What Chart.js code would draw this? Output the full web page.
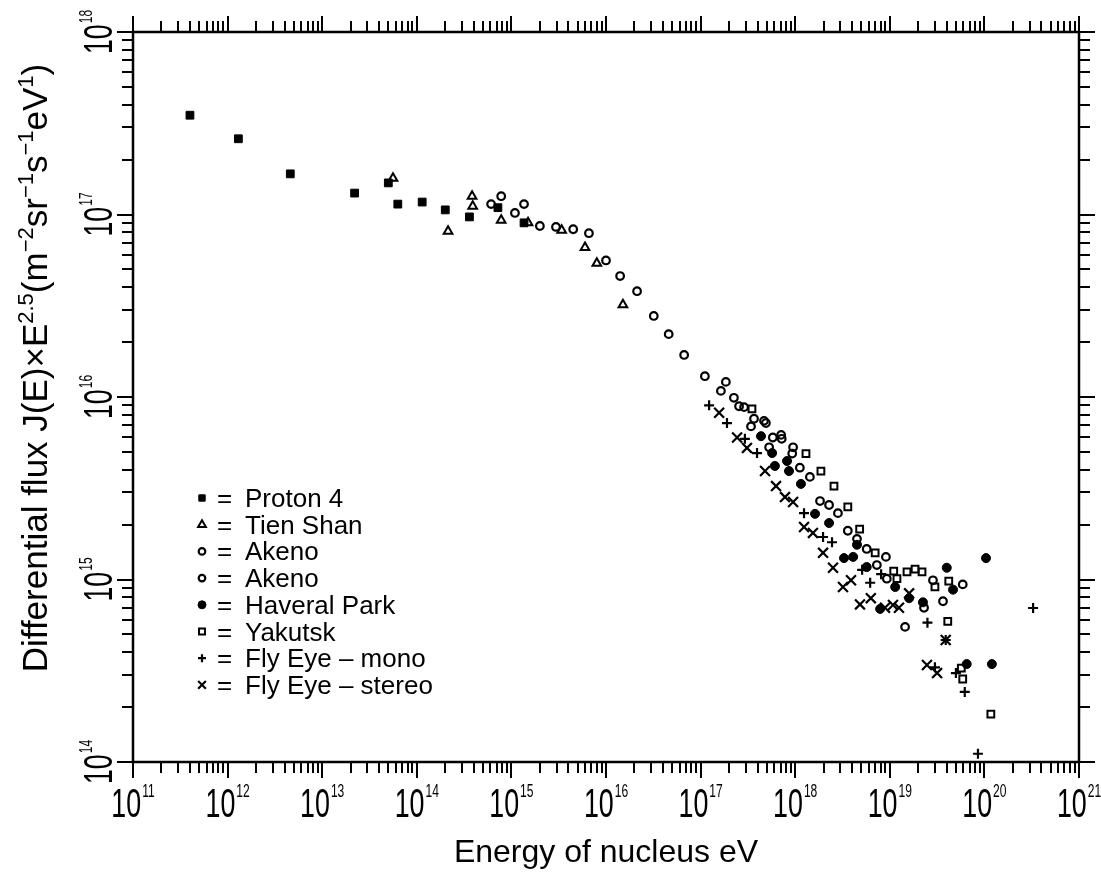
<!DOCTYPE html>
<html>
<head>
<meta charset="utf-8">
<script src="https://cdn.jsdelivr.net/npm/chart.js@4.4.0/dist/chart.umd.min.js"></script>
<style>
  html, body { margin: 0; padding: 0; background: #fff; }
  #wrap { width: 1101px; height: 877px; }
</style>
</head>
<body>
<div id="wrap"><canvas id="chart" width="1101" height="877"></canvas></div>
<script>
// energy of nucleus (eV) and flux J(E)*E^2.5
const PROTON4_E = [4.0e11, 1.3e12, 4.6e12, 2.2e13, 5.0e13, 6.3e13, 1.14e14, 2.0e14, 3.6e14, 7.2e14, 1.36e15];
const PROTON4_F = [3.5e17, 2.6e17, 1.67e17, 1.31e17, 1.49e17, 1.14e17, 1.17e17, 1.06e17, 9.7e16, 1.09e17, 9.0e16];

const TIENSHAN_E = [5.6e13, 2.14e14, 3.84e14, 3.9e14, 7.8e14, 1.5e15, 3.4e15, 6.0e15, 8.0e15, 1.51e16];
const TIENSHAN_F = [1.58e17, 8.1e16, 1.26e17, 1.11e17, 9.3e16, 9.0e16, 8.2e16, 6.6e16, 5.4e16, 3.2e16];

const AKENO1_E = [6.1e14, 7.8e14, 1.09e15, 1.36e15, 2.0e15, 2.96e15, 4.5e15, 6.6e15, 1.0e16, 1.41e16, 2.13e16, 3.2e16, 4.6e16, 6.7e16, 1.11e17];
const AKENO1_F = [1.14e17, 1.26e17, 1.02e17, 1.14e17, 8.65e16, 8.55e16, 8.3e16, 7.9e16, 5.6e16, 4.6e16, 3.8e16, 2.78e16, 2.21e16, 1.70e16, 1.30e16];

const AKENO2_E = [1.64e17, 1.85e17, 2.25e17, 2.55e17, 2.88e17, 3.41e17, 3.67e17, 4.68e17, 4.9e17, 5.3e17, 5.8e17, 7.1e17, 7.2e17, 9.3e17, 9.5e17, 1.12e18, 1.43e18, 1.83e18, 2.28e18, 2.83e18, 3.6e18, 4.5e18, 5.7e18, 7.3e18, 9.1e18, 9.3e18, 1.45e19, 2.3e19, 2.86e19, 3.65e19, 5.9e19];
const AKENO2_F = [1.08e16, 1.21e16, 9.9e15, 8.9e15, 8.8e15, 6.9e15, 7.6e15, 7.4e15, 7.2e15, 5.3e15, 6.0e15, 6.2e15, 5.9e15, 4.9e15, 5.3e15, 4.1e15, 3.65e15, 2.69e15, 2.56e15, 2.31e15, 1.85e15, 1.67e15, 1.47e15, 1.20e15, 1.33e15, 1.01e15, 5.5e14, 7.0e14, 9.9e14, 7.6e14, 9.4e14];

const HAVERAH_E = [4.35e17, 5.7e17, 6.1e17, 8.2e17, 8.6e17, 1.15e18, 1.62e18, 2.28e18, 3.28e18, 4.1e18, 4.5e18, 5.7e18, 7.9e18, 1.14e19, 1.6e19, 2.24e19, 4.0e19, 4.66e19, 6.5e19, 1.04e20, 1.2e20];
const HAVERAH_F = [6.1e15, 4.93e15, 4.19e15, 4.46e15, 3.93e15, 3.34e15, 2.29e15, 2.04e15, 1.31e15, 1.33e15, 1.55e15, 1.17e15, 6.9e14, 9.1e14, 7.9e14, 7.5e14, 1.16e15, 8.8e14, 3.44e14, 1.31e15, 3.44e14];

const YAKUTSK_E = [3.49e17, 1.3e18, 1.87e18, 2.57e18, 3.6e18, 4.8e18, 7.0e18, 1.1e19, 1.19e19, 1.52e19, 1.85e19, 2.19e19, 3.0e19, 4.1e19, 4.2e19, 5.7e19, 5.9e19, 1.17e20];
const YAKUTSK_F = [8.6e15, 4.9e15, 3.93e15, 3.25e15, 2.5e15, 1.89e15, 1.40e15, 1.11e15, 1.01e15, 1.10e15, 1.14e15, 1.10e15, 9.1e14, 5.9e14, 9.8e14, 3.27e14, 2.85e14, 1.83e14];

const FLYMONO_E = [1.23e17, 1.9e17, 2.94e17, 3.95e17, 1.24e18, 1.97e18, 2.45e18, 5.1e18, 6.2e18, 8.1e18, 2.5e19, 3.0e19, 3.9e19, 5.0e19, 6.2e19, 8.55e19, 3.27e20];
const FLYMONO_F = [9.0e15, 7.2e15, 5.9e15, 4.93e15, 2.31e15, 1.71e15, 1.60e15, 1.13e15, 9.6e14, 1.07e15, 5.8e14, 3.3e14, 4.66e14, 3.07e14, 2.42e14, 1.11e14, 6.98e14];

const FLYSTEREO_E = [1.57e17, 2.43e17, 3.09e17, 4.8e17, 6.27e17, 7.8e17, 9.5e17, 1.24e18, 1.54e18, 1.97e18, 2.51e18, 3.2e18, 3.89e18, 4.84e18, 6.3e18, 8.9e18, 1.08e19, 1.25e19, 1.6e19, 2.47e19, 3.16e19, 3.9e19];
const FLYSTEREO_F = [8.2e15, 6.0e15, 5.26e15, 3.93e15, 3.25e15, 2.83e15, 2.66e15, 1.94e15, 1.80e15, 1.40e15, 1.16e15, 9.1e14, 9.9e14, 7.3e14, 7.9e14, 7.0e14, 7.25e14, 7.0e14, 8.4e14, 3.4e14, 3.07e14, 4.66e14];

const SERIES_LABELS = ['Proton 4', 'Tien Shan', 'Akeno', 'Akeno', 'Haveral Park', 'Yakutsk', 'Fly Eye \u2013 mono', 'Fly Eye \u2013 stereo'];

// axis decades (powers of ten)
const X_EXPS = [11, 12, 13, 14, 15, 16, 17, 18, 19, 20, 21];
const Y_EXPS = [14, 15, 16, 17, 18];

const X_TITLE = 'Energy of nucleus eV';
const Y_TITLE = [['Differential flux J(E)\u00d7E', 0], ['2.5', 1], ['(m', 0], ['\u22122', 1], ['sr', 0], ['\u22121', 1], ['s', 0], ['\u22121', 1], ['eV', 0], ['1', 1], [')', 0]];

const FONT = '"Liberation Sans", Arial, sans-serif';
const INK = '#000';

const pts = (xs, ys) => xs.map((v, i) => ({ x: v, y: ys[i] }));

// marker look for each series, in legend order
const STYLES = [
    { pointStyle: 'rect',     radius: 5.5, borderWidth: 1,   fill: true,  legendRadius: 4.5 },
    { pointStyle: 'triangle', radius: 5,   borderWidth: 2,   fill: false, legendRadius: 4.5 },
    { pointStyle: 'circle',   radius: 3.8, borderWidth: 2.2, fill: false, legendRadius: 3.3 },
    { pointStyle: 'circle',   radius: 3.8, borderWidth: 2.2, fill: false, legendRadius: 3.3 },
    { pointStyle: 'circle',   radius: 4.5, borderWidth: 1,   fill: true,  legendRadius: 4 },
    { pointStyle: 'rect',     radius: 4.8, borderWidth: 2,   fill: false, legendRadius: 4.2 },
    { pointStyle: 'cross',    radius: 5,   borderWidth: 2.2, fill: false, legendRadius: 4 },
    { pointStyle: 'crossRot', radius: 7,   borderWidth: 2.2, fill: false, legendRadius: 5.5 }
];

const SERIES_DATA = [
    pts(PROTON4_E, PROTON4_F),
    pts(TIENSHAN_E, TIENSHAN_F),
    pts(AKENO1_E, AKENO1_F),
    pts(AKENO2_E, AKENO2_F),
    pts(HAVERAH_E, HAVERAH_F),
    pts(YAKUTSK_E, YAKUTSK_F),
    pts(FLYMONO_E, FLYMONO_F),
    pts(FLYSTEREO_E, FLYSTEREO_F)
];

/* ── text helpers ───────────────────────────────── */
function condText(ctx, str, x, y, font, sx) {
    ctx.save();
    ctx.translate(x, y);
    ctx.scale(sx, 1);
    ctx.font = font;
    ctx.fillText(str, 0, 0);
    ctx.restore();
}

function condWidth(ctx, str, font, sx) {
    ctx.font = font;
    return ctx.measureText(str).width * sx;
}

// "10" with a raised exponent, centred on cx, baseline at by
function powLabel(ctx, exp, cx, by) {
    const big = '40px ' + FONT, small = '18px ' + FONT, sx = 0.67;
    const w10 = condWidth(ctx, '10', big, sx);
    const wE = condWidth(ctx, String(exp), small, sx);
    const start = cx - (w10 + 1 + wE) / 2;
    condText(ctx, '10', start, by, big, sx);
    condText(ctx, String(exp), start + w10 + 1, by - 20, small, sx);
}

function richText(ctx, parts, cx, by, size, supSize, rise) {
    const widths = parts.map(([s, sup]) => {
        ctx.font = (sup ? supSize : size) + 'px ' + FONT;
        return ctx.measureText(s).width;
    });
    let x = cx - widths.reduce((a, b) => a + b, 0) / 2;
    parts.forEach(([s, sup], i) => {
        ctx.font = (sup ? supSize : size) + 'px ' + FONT;
        ctx.fillText(s, x, sup ? by - rise : by);
        x += widths[i];
    });
}

/* ── frame, ticks, labels, legend ───────────────── */
const figurePlugin = {
    id: 'figure',
    afterDraw(chart) {
        const { ctx, chartArea: a, scales: { x, y } } = chart;
        ctx.save();
        ctx.strokeStyle = INK;
        ctx.fillStyle = INK;
        ctx.lineCap = 'butt';

        // ticks pointing outwards on all four sides
        ctx.lineWidth = 2;
        ctx.beginPath();
        for (let d = X_EXPS[0]; d <= X_EXPS[X_EXPS.length - 1]; d++) {
            for (let m = 1; m <= 9; m++) {
                if (d === X_EXPS[X_EXPS.length - 1] && m > 1) break;
                const px = Math.round(x.getPixelForValue(m * Math.pow(10, d)));
                const len = m === 1 ? 16 : 11;
                ctx.moveTo(px, a.bottom); ctx.lineTo(px, a.bottom + len);
                ctx.moveTo(px, a.top); ctx.lineTo(px, a.top - len);
            }
        }
        for (let d = Y_EXPS[0]; d <= Y_EXPS[Y_EXPS.length - 1]; d++) {
            for (let m = 1; m <= 9; m++) {
                if (d === Y_EXPS[Y_EXPS.length - 1] && m > 1) break;
                const py = Math.round(y.getPixelForValue(m * Math.pow(10, d)));
                const len = m === 1 ? 16 : 11;
                ctx.moveTo(a.left, py); ctx.lineTo(a.left - len, py);
                ctx.moveTo(a.right, py); ctx.lineTo(a.right + len, py);
            }
        }
        ctx.stroke();

        ctx.lineWidth = 2.5;
        ctx.strokeRect(a.left, a.top, a.right - a.left, a.bottom - a.top);

        // tick labels
        X_EXPS.forEach(e => powLabel(ctx, e, x.getPixelForValue(Math.pow(10, e)), 817));
        Y_EXPS.forEach(e => {
            ctx.save();
            ctx.translate(112, y.getPixelForValue(Math.pow(10, e)));
            ctx.rotate(-Math.PI / 2);
            powLabel(ctx, e, 0, 0);
            ctx.restore();
        });

        // axis titles
        ctx.font = '32px ' + FONT;
        ctx.textAlign = 'center';
        ctx.fillText(X_TITLE, (a.left + a.right) / 2, 862);
        ctx.textAlign = 'left';
        ctx.save();
        ctx.translate(47, 368);
        ctx.rotate(-Math.PI / 2);
        richText(ctx, Y_TITLE, 0, 0, 35, 22, 14);
        ctx.restore();

        // legend
        chart.data.datasets.forEach((ds, i) => {
            const st = STYLES[i];
            const cy = 498 + i * 26.7;
            ctx.fillStyle = st.fill ? INK : 'rgba(0,0,0,0)';
            ctx.strokeStyle = INK;
            ctx.lineWidth = st.borderWidth;
            Chart.helpers.drawPoint(ctx, {
                pointStyle: st.pointStyle, rotation: 0,
                radius: st.legendRadius, borderWidth: st.borderWidth
            }, 202, cy);
            ctx.fillStyle = INK;
            ctx.font = '26px ' + FONT;
            ctx.fillText('=', 217, cy + 9);
            ctx.fillText(ds.label, 245, cy + 9);
        });
        ctx.restore();
    }
};

const datasets = SERIES_DATA.map((data, i) => {
    const st = STYLES[i];
    return {
        label: SERIES_LABELS[i],
        data,
        showLine: false,
        pointStyle: st.pointStyle,
        pointRadius: st.radius,
        pointHoverRadius: st.radius,
        pointBorderWidth: st.borderWidth,
        pointBorderColor: INK,
        pointBackgroundColor: st.fill ? INK : 'rgba(0,0,0,0)'
    };
});

const HIDDEN = { grid: { display: false }, border: { display: false }, ticks: { display: false } };

new Chart(document.getElementById('chart').getContext('2d'), {
    type: 'scatter',
    data: { datasets },
    options: {
        responsive: false,
        animation: false,
        layout: { padding: { top: 32, right: 22, left: 0, bottom: 0 } },
        plugins: { legend: { display: false }, tooltip: { enabled: false } },
        scales: {
            x: { type: 'logarithmic', min: 1e11, max: 1e21, ...HIDDEN, afterFit: s => { s.height = 115; } },
            y: { type: 'logarithmic', min: 1e14, max: 1e18, ...HIDDEN, afterFit: s => { s.width = 133; } }
        }
    },
    plugins: [figurePlugin]
});
</script>
</body>
</html>
